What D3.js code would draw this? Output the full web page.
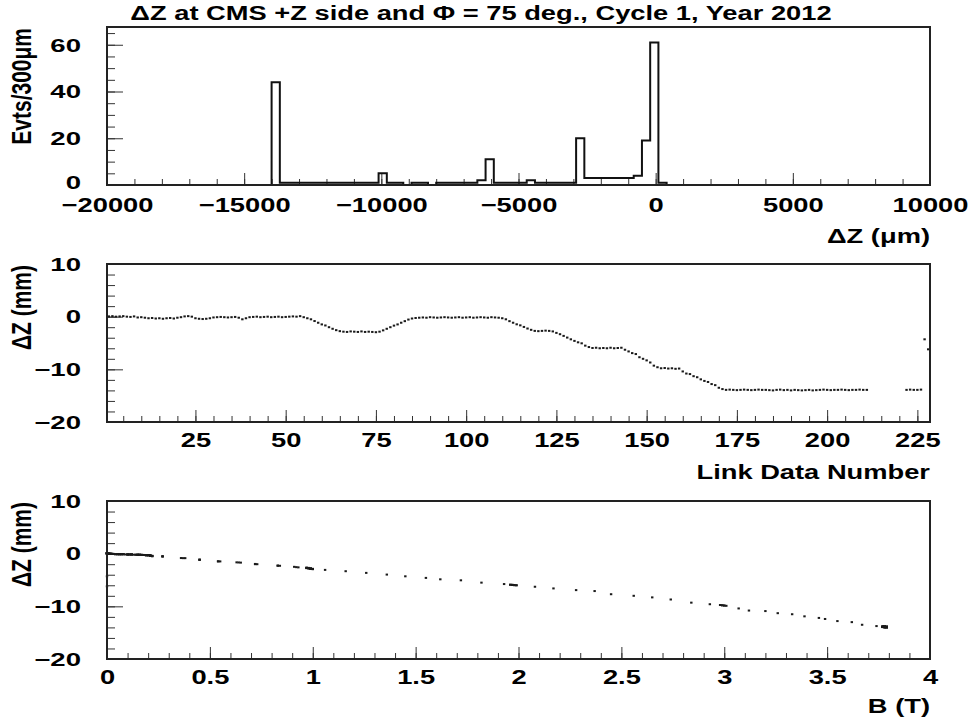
<!DOCTYPE html>
<html><head><meta charset="utf-8">
<script src="https://cdn.jsdelivr.net/npm/d3@7"></script>
<style>body{margin:0;background:#fff}svg{display:block}</style>
</head><body>
<svg id="c" width="973" height="722"></svg>
<script>
// ---------------- DATA ----------------
const titleText = "ΔZ at CMS +Z side and Φ = 75 deg., Cycle 1, Year 2012";

// Histogram: lower bin edges (µm), bin width 300 µm, and counts
const histLowEdges = [-14000,-13700,-13400,-13100,-12800,-12500,-12200,-11900,-11600,-11300,-11000,-10700,-10400,
  -10100,-9800,-9500,-9200,-8900,-8600,-8300,-8000,-7700,-7400,-7100,-6800,-6500,-6200,
  -5900,-5600,-5300,-5000,-4700,-4400,-4100,-3800,-3500,-3200,-2900,
  -2600,-2300,-2000,-1700,-1400,-1100,-800,-500,-200,100];
const histCounts = [44,1,1,1,1,1,1,1,1,1,1,1,1,
  5,1,1,0,1,1,0,1,1,1,1,1,2,11,
  1,1,1,1,2,1,1,1,1,1,20,
  3,3,3,3,3,3,4,19,61,1];
const histBinWidth = 300;
const histXTicks = [-20000,-15000,-10000,-5000,0,5000,10000];
const histYTicks = [0,20,40,60];

const linkNumbers = [
  1,2,3,4,5,6,7,8,9,10, 11,12,13,14,15,16,17,18,19,20, 21,22,23,24,25,26,27,28,29,30,
  31,32,33,34,35,36,37,38,39,40, 41,42,43,44,45,46,47,48,49,50, 51,52,53,54,55,56,57,58,59,60,
  61,62,63,64,65,66,67,68,69,70, 71,72,73,74,75,76,77,78,79,80, 81,82,83,84,85,86,87,88,89,90,
  91,92,93,94,95,96,97,98,99,100, 101,102,103,104,105,106,107,108,109,110, 111,112,113,114,115,116,117,118,119,120,
  121,122,123,124,125,126,127,128,129,130, 131,132,133,134,135,136,137,138,139,140, 141,142,143,144,145,146,147,148,149,150,
  151,152,153,154,155,156,157,158,159,160, 161,162,163,164,165,166,167,168,169,170, 171,172,173,174,175,176,177,178,179,180,
  181,182,183,184,185,186,187,188,189,190, 191,192,193,194,195,196,197,198,199,200, 201,202,203,204,205,206,207,208,209,210,
  211, 222,223,224,225,226,227,228];

const dzMM = [
  0.05,0.1,0.0,0.05,0.1,0.0,-0.05,0.05,-0.15,-0.1,
  -0.2,-0.3,-0.25,-0.35,-0.3,-0.4,-0.3,-0.25,-0.35,-0.2,
  -0.1,0.05,0.1,0.0,-0.3,-0.4,-0.45,-0.4,-0.3,-0.15,
  -0.1,-0.05,-0.1,-0.15,-0.1,-0.05,-0.2,-0.5,-0.3,-0.1,
  -0.05,0.0,-0.1,-0.05,0.0,-0.1,-0.05,0.0,-0.1,-0.05,
  0.0,0.05,0.0,0.1,-0.1,-0.3,-0.5,-0.83,-1.15,-1.47,
  -1.67,-2.0,-2.3,-2.56,-2.75,-2.85,-2.9,-2.8,-2.85,-2.9,
  -2.8,-2.9,-2.85,-2.9,-2.95,-2.85,-2.6,-2.3,-2.0,-1.7,
  -1.47,-1.15,-0.85,-0.55,-0.35,-0.25,-0.2,-0.15,-0.2,-0.1,
  -0.15,-0.2,-0.15,-0.1,-0.15,-0.2,-0.15,-0.1,-0.2,-0.15,
  -0.1,-0.2,-0.15,-0.1,-0.15,-0.2,-0.1,-0.15,-0.2,-0.3,
  -0.5,-0.85,-1.15,-1.45,-1.65,-1.95,-2.25,-2.5,-2.7,-2.75,
  -2.7,-2.65,-2.7,-2.8,-3.08,-3.33,-3.65,-3.97,-4.3,-4.6,
  -4.87,-5.06,-5.5,-5.77,-5.95,-5.9,-6.0,-5.95,-6.0,-5.9,
  -6.0,-5.95,-5.9,-6.28,-6.6,-6.92,-7.1,-7.7,-8.0,-8.3,
  -8.7,-9.3,-9.6,-9.8,-9.75,-9.85,-9.8,-9.9,-9.85,-10.4,
  -10.8,-10.9,-11.3,-11.5,-11.9,-12.2,-12.4,-12.8,-13.0,-13.5,
  -13.75,-13.9,-13.85,-13.9,-13.95,-13.9,-13.85,-13.9,-13.95,-13.9,
  -13.85,-13.9,-13.9,-13.95,-14.0,-13.9,-13.85,-13.95,-13.9,-14.0,
  -13.9,-13.95,-14.0,-13.95,-13.9,-14.0,-13.95,-13.9,-13.85,-13.9,
  -13.95,-13.9,-13.9,-13.85,-13.9,-13.95,-13.9,-13.9,-13.85,-13.9,
  -13.9, -13.9,-13.85,-13.9,-13.9,-13.85,-4.3,-6.2];

const bTesla = [
  0.00,0.00,0.01,0.00,0.00,0.02,0.03,0.01,0.10,0.07,
  0.13,0.19,0.17,0.21,0.20,0.22,0.20,0.18,0.21,0.14,
  0.06,0.00,0.00,0.02,0.19,0.21,0.22,0.21,0.20,0.10,
  0.05,0.03,0.06,0.09,0.05,0.03,0.15,0.22,0.19,0.06,
  0.02,0.01,0.04,0.02,0.00,0.04,0.02,0.01,0.05,0.02,
  0.00,0.00,0.01,0.00,0.08,0.21,0.27,0.36,0.45,0.54,
  0.64,0.72,0.83,0.92,0.97,0.99,1.00,0.98,0.99,1.00,
  0.98,0.99,0.99,1.00,1.00,0.99,0.93,0.84,0.73,0.65,
  0.55,0.45,0.38,0.27,0.21,0.18,0.15,0.11,0.14,0.07,
  0.11,0.15,0.12,0.06,0.10,0.15,0.12,0.07,0.16,0.11,
  0.08,0.16,0.12,0.07,0.10,0.16,0.08,0.12,0.17,0.20,
  0.27,0.37,0.45,0.54,0.63,0.72,0.83,0.91,0.97,0.98,
  0.97,0.97,0.98,0.99,1.06,1.16,1.26,1.36,1.45,1.55,
  1.62,1.72,1.82,1.93,1.97,1.96,1.99,1.97,1.98,1.96,
  1.99,1.98,1.97,2.08,2.17,2.28,2.37,2.45,2.56,2.65,
  2.74,2.84,2.93,2.99,2.98,3.00,2.99,3.01,3.00,3.07,
  3.12,3.20,3.26,3.33,3.39,3.46,3.49,3.55,3.62,3.67,
  3.74,3.77,3.78,3.79,3.78,3.77,3.78,3.79,3.78,3.77,
  3.78,3.79,3.78,3.77,3.79,3.78,3.77,3.78,3.79,3.78,
  3.77,3.78,3.79,3.78,3.77,3.79,3.78,3.78,3.77,3.78,
  3.79,3.78,3.77,3.78,3.79,3.78,3.77,3.78,3.79,3.78,
  3.78, 3.78,3.77,3.79,3.78,3.77,0.00,0.00];

const linkXTicks = [25,50,75,100,125,150,175,200,225];
const dzYTicks = [-20,-10,0,10];
const bXTicks = [0,0.5,1,1.5,2,2.5,3,3.5,4];

// ---------------- DRAWING ----------------
const svg = d3.select("#c");
const FONT = "'Liberation Sans', Arial, Helvetica, sans-serif";
const SX = 1.3;      // horizontal glyph stretch of the original picture
const FS = 21;
const FSY = 19, SXY = 1.45;   // y tick labels
const L = 107, R = 930;

function txt(x, y, str, anchor, rotate) {
  svg.append("text")
    .attr("transform", `translate(${x},${y}) scale(${SX},1)` + (rotate ? " rotate(-90)" : ""))
    .attr("text-anchor", anchor)
    .attr("font-family", FONT).attr("font-weight", "bold").attr("font-size", FS)
    .attr("fill", "#000").text(str);
}

function styleAxis(sel) {
  sel.select(".domain").remove();
  sel.selectAll("line").attr("stroke", "#333").attr("stroke-width", 1);
  sel.selectAll("text").attr("font-family", FONT).attr("font-weight", "bold")
    .attr("font-size", FS).attr("fill", "#000");
}

function panel(c) {
  const g = svg.append("g");
  g.append("g").attr("transform", `translate(0,${c.bottom})`)
    .call(d3.axisBottom(c.x).tickValues(c.xMinor).tickSize(-6).tickFormat(""))
    .call(styleAxis);
  const ax = g.append("g").attr("transform", `translate(0,${c.bottom})`)
    .call(d3.axisBottom(c.x).tickValues(c.xMajor).tickSize(-12).tickFormat(c.xFmt))
    .call(styleAxis);
  ax.selectAll("text").attr("y", c.xLabelOff || 25).attr("dy", null).attr("transform", `scale(${SX},1)`);
  g.append("g").attr("transform", `translate(${L},0)`)
    .call(d3.axisLeft(c.y).tickValues(c.yMinor).tickSize(-8).tickFormat(""))
    .call(styleAxis);
  const ay = g.append("g").attr("transform", `translate(${L},0)`)
    .call(d3.axisLeft(c.y).tickValues(c.yMajor).tickSize(-16).tickFormat(d3.format("d")))
    .call(styleAxis);
  ay.selectAll("text").attr("font-size", FSY).attr("x", -26 / SXY)
    .attr("dy", d => (c.lowLabelLift && d === c.y.domain()[0]) ? "0.17em" : "0.33em")
    .attr("transform", `scale(${SXY},1)`);
  return g;
}

function frame(top, bottom) {
  svg.append("rect").attr("x", L).attr("y", top).attr("width", R - L).attr("height", bottom - top)
    .attr("fill", "none").attr("stroke", "#222").attr("stroke-width", 2);
}

function dots(data, x, y) {
  svg.append("g").selectAll("rect").data(data).join("rect")
    .attr("x", d => x(d[0]) - 1.2).attr("y", d => y(d[1]) - 1)
    .attr("width", 2.4).attr("height", 2).attr("fill", "#1a1a1a");
}

// ----- Panel 1: histogram
{
  const top = 27, bottom = 185;
  const x = d3.scaleLinear().domain([-20000, 10000]).range([L, R]);
  const y = d3.scaleLinear().domain([0, 67.6]).range([bottom, top]);
  panel({top, bottom, x, y, xLabelOff: 27, lowLabelLift: true,
    xMajor: histXTicks, xMinor: d3.range(-20000, 10001, 1000), xFmt: d3.format("d"),
    yMajor: histYTicks, yMinor: d3.range(0, 66, 5)});
  const pts = [[-20000, 0]];
  histLowEdges.forEach((e, i) => pts.push([e, histCounts[i]]));
  const lastHi = histLowEdges[histLowEdges.length - 1] + histBinWidth;
  pts.push([lastHi, 0]);
  pts.push([10000, 0]);
  svg.append("path").datum(pts)
    .attr("d", d3.line().x(d => x(d[0])).y(d => y(d[1])).curve(d3.curveStepAfter))
    .attr("fill", "none").attr("stroke", "#111").attr("stroke-width", 2);
  frame(top, bottom);
  txt(R, 243, "ΔZ (μm)", "end");
  txt(31, top + 1, "Evts/300μm", "end", true);
}

// ----- Panel 2: dZ vs link number
{
  const top = 264, bottom = 422;
  const x = d3.scaleLinear().domain([0.5, 228.5]).range([L, R]);
  const y = d3.scaleLinear().domain([-20, 10]).range([bottom, top]);
  panel({top, bottom, x, y,
    xMajor: linkXTicks, xMinor: d3.range(5, 229, 5), xFmt: d3.format("d"),
    yMajor: dzYTicks, yMinor: d3.range(-20, 11, 2)});
  dots(linkNumbers.map((n, i) => [n, dzMM[i]]), x, y);
  frame(top, bottom);
  txt(R, 479, "Link Data Number", "end");
  txt(31, top + 1, "ΔZ (mm)", "end", true);
}

// ----- Panel 3: dZ vs B
{
  const top = 501, bottom = 659;
  const x = d3.scaleLinear().domain([0, 4]).range([L, R]);
  const y = d3.scaleLinear().domain([-20, 10]).range([bottom, top]);
  panel({top, bottom, x, y,
    xMajor: bXTicks, xMinor: d3.range(0, 4.001, 0.1), xFmt: d3.format("~g"),
    yMajor: dzYTicks, yMinor: d3.range(-20, 11, 2)});
  dots(bTesla.map((b, i) => [b, dzMM[i]]), x, y);
  frame(top, bottom);
  txt(R, 713, "B (T)", "end");
  txt(31, top + 1, "ΔZ (mm)", "end", true);
}

// Title
txt(481, 20, titleText, "middle");
</script>
</body></html>
